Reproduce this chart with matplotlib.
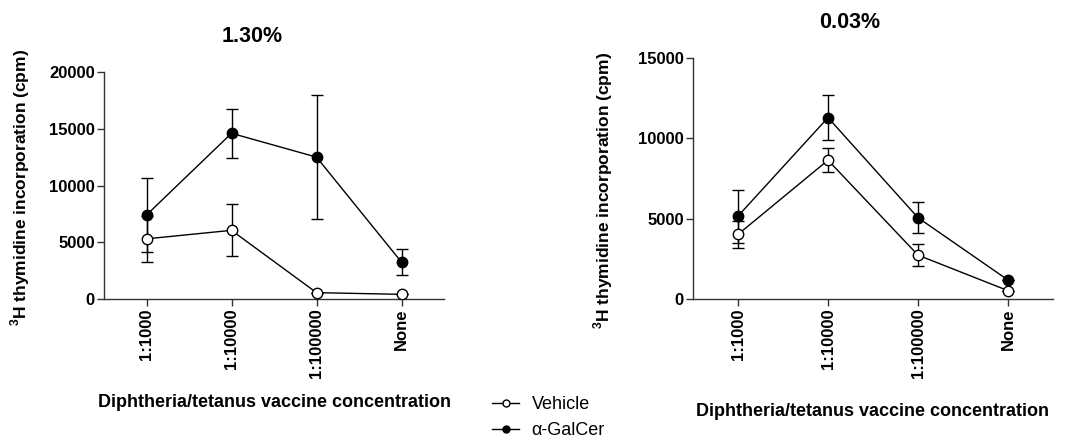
import matplotlib
matplotlib.use('Agg')
import matplotlib.pyplot as plt
from matplotlib.lines import Line2D

plt.rcParams['font.family'] = ['Liberation Sans', 'DejaVu Sans']
plt.rcParams['mathtext.fontset'] = 'custom'
plt.rcParams['mathtext.bf'] = 'Liberation Sans:bold'
plt.rcParams['mathtext.rm'] = 'Liberation Sans'

conc = ['1:1000', '1:10000', '1:100000', 'None']

# 1.30% panel
veh_hi = [5300, 6050, 560, 410]
veh_hi_err = [2000, 2300, 0, 0]
gal_hi = [7400, 14600, 12500, 3250]
gal_hi_err = [3300, 2150, 5450, 1170]

# 0.03% panel
veh_lo = [4020, 8640, 2730, 520]
veh_lo_err = [830, 750, 680, 0]
gal_lo = [5160, 11290, 5060, 1180]
gal_lo_err = [1650, 1420, 960, 0]

W, H = 1067, 438
fig = plt.figure(figsize=(W / 100, H / 100), dpi=100)


def px_axes(x0, x1, ytop, ybot):
    return fig.add_axes([x0 / W, 1 - ybot / H, (x1 - x0) / W, (ybot - ytop) / H])


def panel(ax, veh, veh_err, gal, gal_err, ymax, step, ylab_xy, xlab_y):
    x = range(len(conc))
    ax.errorbar(x, gal, yerr=gal_err, color='black', lw=1, marker='o', ms=7.5,
                mfc='black', mec='black', capsize=4.5, elinewidth=1, capthick=1, zorder=3)
    ax.errorbar(x, veh, yerr=veh_err, color='black', lw=1, marker='o', ms=7.5,
                mfc='white', mec='black', capsize=4.5, elinewidth=1, capthick=1, zorder=4)
    ax.set_xlim(-0.5, 3.5)
    ax.set_ylim(0, ymax)
    ax.set_yticks(range(0, ymax + 1, step))
    ax.set_xticks(list(x))
    ax.set_xticklabels(conc, rotation=90, fontweight='bold', fontsize=12)
    for lab in ax.get_yticklabels():
        lab.set_fontweight('bold')
        lab.set_fontsize(12)
    for s in ('top', 'right'):
        ax.spines[s].set_visible(False)
    for s in ('left', 'bottom'):
        ax.spines[s].set_linewidth(1)
        ax.spines[s].set_color('#333333')
    ax.tick_params(direction='out', length=5, width=1, color='#333333', pad=1.5)
    ax.set_ylabel(r'$^{\mathbf{3}}$H thymidine incorporation (cpm)', fontweight='bold',
                  fontsize=12.5, va='center')
    ax.yaxis.set_label_coords(*ylab_xy)
    ax.set_xlabel('Diphtheria/tetanus vaccine concentration', fontweight='bold',
                  fontsize=13, va='center')
    ax.xaxis.set_label_coords(0.5, xlab_y)


ax1 = px_axes(104, 444, 72, 299)
panel(ax1, veh_hi, veh_hi_err, gal_hi, gal_hi_err, 20000, 5000, (-0.247, 0.493), -0.458)

ax2 = px_axes(693, 1053, 58, 299)
panel(ax2, veh_lo, veh_lo_err, gal_lo, gal_lo_err, 15000, 5000, (-0.25, 0.452), -0.465)

fig.text(252 / W, 1 - 37 / H, '1.30%', fontweight='bold', fontsize=15.5,
         ha='center', va='center')
fig.text(850 / W, 1 - 22 / H, '0.03%', fontweight='bold', fontsize=15.5,
         ha='center', va='center')

handles = [
    Line2D([], [], color='black', lw=1, marker='o', ms=5, mfc='white', mec='black'),
    Line2D([], [], color='black', lw=1, marker='o', ms=5, mfc='black', mec='black'),
]
fig.legend(handles, ['Vehicle', 'α-GalCer'], loc='upper left',
           bbox_to_anchor=(492 / W, 1 - 396 / H), frameon=False, fontsize=13,
           borderpad=0, borderaxespad=0, handlelength=1.5, handletextpad=0.7,
           labelspacing=0.5)

fig.savefig('out.png', dpi=100)
